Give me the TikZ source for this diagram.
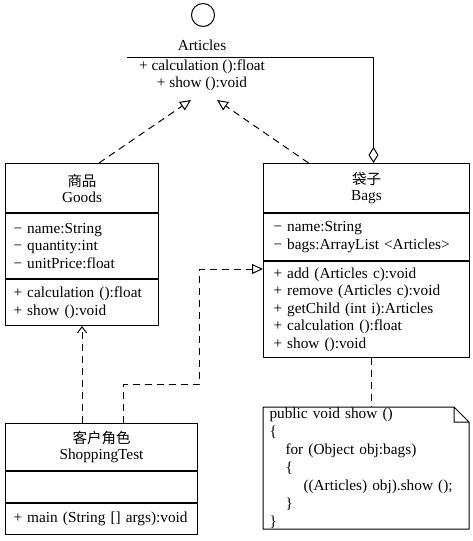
\documentclass[tikz,border=0pt]{standalone}
\usepackage{fontspec}
\setmainfont{Liberation Serif}
\newfontfamily\cjk{Noto Sans CJK SC}
\usetikzlibrary{arrows.meta}
\begin{document}
\begin{tikzpicture}[x=1pt, y=-1pt, line width=1pt, line join=round, font=\fontsize{15.3}{17.5}\selectfont,
	box/.style={draw, anchor=north west, inner xsep=8pt, inner ysep=0pt, align=left},
	ttl/.style={draw, anchor=north west, inner sep=0pt, align=center, font=\fontsize{15.3}{16}\selectfont},
	dsh/.style={dash pattern=on 7pt off 5pt},
	real/.style={dsh, -{Triangle[open, length=11pt, width=10pt]}},
	dep/.style={dsh, -{Straight Barb[length=6pt, width=9pt]}}]
	\useasboundingbox (0,0) rectangle (472,541);
	\path (191,100) coordinate (tipg)
	(217,100) coordinate (tipb)
	(199,384) coordinate (bend)
	;
	\node[circle, draw, minimum size=23pt, inner sep=0pt] (art) at (203,15) {};
	\node[anchor=base] (artname) at (202,50) {Articles};
	\node[anchor=north, minimum width=150pt, inner xsep=0pt, inner ysep=2pt, align=center] (artops) at (202,57) {+ calculation ():float\\+ show ():void};
	\draw (artops.north west) -- (artops.north east);
	\node[ttl, minimum width=153pt, minimum height=49pt] (goodsname) at (5,163) {{\cjk\fontsize{14.5}{16}\selectfont 商品}\\Goods};
	\node[box, text width=137pt, minimum height=65pt] (goodsattr) at (goodsname.south west) {− name:String\\− quantity:int\\− unitPrice:float};
	\node[box, text width=137pt, minimum height=46pt] (goodsops) at (goodsattr.south west) {+ calculation ():float\\+ show ():void};
	\node[ttl, minimum width=206pt, minimum height=49pt] (bagsname) at (263,163) {{\cjk\fontsize{14.5}{16}\selectfont 袋子}\\Bags};
	\node[box, inner xsep=10pt, text width=186pt, minimum height=47pt] (bagsattr) at (bagsname.south west) {− name:String\\− bags:ArrayList <Articles>};
	\node[box, inner xsep=10pt, text width=186pt, minimum height=96pt] (bagsops) at (bagsattr.south west) {+ add (Articles c):void\\+ remove (Articles c):void\\+ getChild (int i):Articles\\+ calculation ():float\\+ show ():void};
	\node[ttl, minimum width=192pt, minimum height=47pt] (shopname) at (5,423) {{\cjk\fontsize{14.5}{16}\selectfont 客户角色}\\ShoppingTest};
	\node[box, text width=176pt, minimum height=31pt] (shopattr) at (shopname.south west) {};
	\node[box, text width=176pt, minimum height=31pt] (shopops) at (shopattr.south west) {+ main (String [] args):void};
	\node[anchor=north west, inner xsep=6pt, inner ysep=0pt, text width=193pt, minimum height=121pt, align=left, font=\fontsize{15.3}{18}\selectfont] (note) at (263,407)
	{public void show ()\\\{\\\hspace*{16pt}for (Object obj:bags)\\\hspace*{16pt}\{\\\hspace*{34pt}((Articles) obj).show ();\\\hspace*{16pt}\}\\\}};
	\draw (note.north west) -- ([xshift=-15pt]note.north east) -- ([yshift=-15pt]note.north east) -- (note.south east) -- (note.south west) -- cycle
	([xshift=-15pt]note.north east) |- ([yshift=-15pt]note.north east);
	\draw[real] ([xshift=17pt]goodsname.north) -- (tipg);
	\draw[real] ([xshift=-58pt]bagsname.north) -- (tipb);
	\draw[{Diamond[open, length=16pt, width=10pt]}-] ([xshift=7pt]bagsname.north) |- (artops.north east);
	\draw[dep] (shopname.north -| goodsops.south) -- (goodsops.south);
	\draw[real] ([xshift=22pt]shopname.north) |- (bend) |- ([yshift=-8pt]bagsops.north west);
	\draw[dsh] ([xshift=5pt]bagsops.south) -- ([xshift=5pt]bagsops.south |- note.north);
\end{tikzpicture}
\end{document}
